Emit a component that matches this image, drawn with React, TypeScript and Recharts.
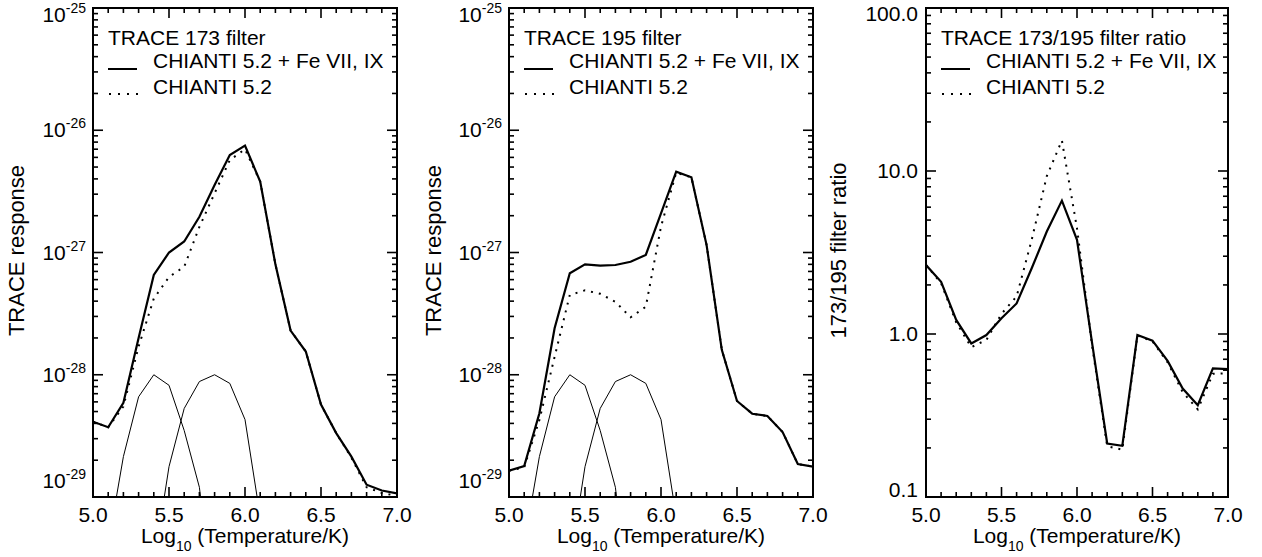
import React from 'react'
import { LineChart, Line, XAxis, YAxis, Legend, Label } from 'recharts'

const FONT = '"Liberation Sans", Arial, Helvetica, sans-serif'

// log10(T/K) grid shared by all three panels
const temps = [5.0, 5.1, 5.2, 5.3, 5.4, 5.5, 5.6, 5.7, 5.8, 5.9, 6.0, 6.1, 6.2, 6.3, 6.4, 6.5, 6.6, 6.7, 6.8, 6.9, 7.0]
const xTickLabels = ['5.0', '5.5', '6.0', '6.5', '7.0']
const responseExponents = ['-29', '-28', '-27', '-26', '-25']
const ratioLabels = ['0.1', '1.0', '10.0', '100.0']
const seriesNames = ['CHIANTI 5.2 + Fe VII, IX', 'CHIANTI 5.2']

// TRACE 173 response
const trace173New = [4.13e-29, 3.72e-29, 5.9e-29, 2.0e-28, 6.55e-28, 1.0e-27, 1.23e-27, 1.96e-27, 3.56e-27, 6.28e-27, 7.48e-27, 3.8e-27, 8.0e-28, 2.3e-28, 1.55e-28, 5.7e-29, 3.33e-29, 2.14e-29, 1.26e-29, 1.13e-29, 1.07e-29]
const trace173Old = [4.13e-29, 3.72e-29, 5.5e-29, 1.7e-28, 4.2e-28, 6.3e-28, 7.65e-28, 1.62e-27, 3.05e-27, 5.7e-27, 7.0e-27, 3.8e-27, 8.0e-28, 2.3e-28, 1.55e-28, 5.7e-29, 3.33e-29, 2.1e-29, 1.2e-29, 1.08e-29, 1.02e-29]

// TRACE 195 response
const trace195New = [1.64e-29, 1.79e-29, 4.84e-29, 2.4e-28, 6.76e-28, 8.0e-28, 7.8e-28, 7.9e-28, 8.4e-28, 9.55e-28, 2.09e-27, 4.58e-27, 4.12e-27, 1.15e-27, 1.6e-28, 6.1e-29, 4.8e-29, 4.6e-29, 3.4e-29, 1.86e-29, 1.77e-29]
const trace195Old = [1.64e-29, 1.75e-29, 4.27e-29, 1.4e-28, 4.5e-28, 4.9e-28, 4.6e-28, 3.95e-28, 2.95e-28, 3.6e-28, 1.63e-27, 4.5e-27, 4.12e-27, 1.15e-27, 1.6e-28, 6.1e-29, 4.8e-29, 4.6e-29, 3.4e-29, 1.86e-29, 1.77e-29]

// thin curves (scaled Fe VII and Fe IX contributions)
const feVII = [null, 4.1e-30, 2.14e-29, 6.6e-29, 1.0e-28, 8.2e-29, 3.5e-29, 1.2e-29, 1.0e-30, null, null, null, null, null, null, null, null, null, null, null, null]
const feIX = [null, null, null, null, 2.8e-30, 1.77e-29, 5.3e-29, 8.8e-29, 1.0e-28, 8.5e-29, 4.3e-29, 6.9e-30, null, null, null, null, null, null, null, null, null]

// 173/195 ratio
const ratioNew = [2.65, 2.09, 1.22, 0.875, 0.985, 1.25, 1.54, 2.53, 4.25, 6.58, 3.78, 0.88, 0.213, 0.206, 0.985, 0.91, 0.684, 0.463, 0.366, 0.615, 0.608]
const ratioOld = [2.65, 2.05, 1.18, 0.83, 0.92, 1.33, 1.7, 3.78, 9.3, 15.4, 4.45, 0.85, 0.205, 0.195, 0.98, 0.9, 0.67, 0.44, 0.345, 0.57, 0.575]

function logTicks(lo: number, hi: number): number[] {
  const out: number[] = []
  for (let e = lo; e < hi; e++) {
    for (let m = 1; m <= 9; m++) out.push(m * Math.pow(10, e))
  }
  out.push(Math.pow(10, hi))
  return out
}

const responseTicks = logTicks(-29, -25)
const ratioTicks = logTicks(-1, 2)

const txt = { fontFamily: FONT, fill: '#000' }
const CHART_H = 557

function decadeIndex(v: number, lo: number): number | null {
  const lg = Math.log10(v)
  const r = Math.round(lg)
  return Math.abs(lg - r) < 1e-6 ? r - lo : null
}

function isHalf(v: number) {
  return Math.abs(v * 2 - Math.round(v * 2)) < 1e-6
}

function renderBottomLabel(props: any) {
  const x = Number(props.x)
  const y = Number(props.y)
  const v = props.payload.value
  if (!isHalf(v)) return <g />
  return (
    <text x={x} y={y + 25} textAnchor="middle" fontSize={21} {...txt}>
      {xTickLabels[Math.round((v - 5) * 2)]}
    </text>
  )
}

function renderLeftLabel(props: any, kind: 'response' | 'ratio', shiftTop: number, shiftBottom: number) {
  const x = Number(props.x)
  const y = Number(props.y)
  const lo = kind === 'response' ? -29 : -1
  const n = kind === 'response' ? 4 : 3
  const dec = decadeIndex(props.payload.value, lo)
  if (dec === null) return <g />
  let by = y + 7
  if (dec === 0) by += shiftBottom
  if (dec === n) by += shiftTop
  if (kind === 'response') {
    return (
      <text x={x - 7} y={by} textAnchor="end" fontSize={21} {...txt}>
        10<tspan dy={-9} fontSize={14}>{responseExponents[dec]}</tspan>
      </text>
    )
  }
  return (
    <text x={x - 8} y={by} textAnchor="end" fontSize={21} {...txt}>
      {ratioLabels[dec]}
    </text>
  )
}

type Box = { l: number; t: number; w: number; h: number }

// inward minor/major tick marks on all four sides of the plot box
function Ticks({ box, yTicks, yLo, yHi }: { box: Box; yTicks: number[]; yLo: number; yHi: number }) {
  const px = (v: number) => box.l + ((v - 5) / 2) * box.w
  const py = (v: number) => box.t + ((Math.log10(yHi) - Math.log10(v)) / (Math.log10(yHi) - Math.log10(yLo))) * box.h
  const b = box.t + box.h
  const r = box.l + box.w
  const segs: React.ReactNode[] = []
  temps.forEach((t, i) => {
    const len = isHalf(t) ? 10 : 5
    const x = px(t)
    segs.push(<line key={'b' + i} x1={x} x2={x} y1={b} y2={b - len} />)
    segs.push(<line key={'t' + i} x1={x} x2={x} y1={box.t} y2={box.t + len} />)
  })
  yTicks.forEach((v, i) => {
    const lg = Math.log10(v)
    const len = Math.abs(lg - Math.round(lg)) < 1e-6 ? 10 : 5
    const y = py(v)
    segs.push(<line key={'l' + i} x1={box.l} x2={box.l + len} y1={y} y2={y} />)
    segs.push(<line key={'r' + i} x1={r} x2={r - len} y1={y} y2={y} />)
  })
  return (
    <svg width={r + 10} height={CHART_H} style={{ position: 'absolute', left: 0, top: 0, pointerEvents: 'none', overflow: 'visible' }}>
      <g stroke="#000" strokeWidth={1.6}>{segs}</g>
    </svg>
  )
}

function PanelLegend({ title }: { title: string }) {
  return (
    <svg width={300} height={100} style={{ display: 'block' }}>
      <text x={0} y={37} fontSize={21} {...txt}>{title}</text>
      <line x1={0} x2={29} y1={61} y2={61} stroke="#000" strokeWidth={2} />
      <text x={45} y={60} fontSize={21} {...txt}>{seriesNames[0]}</text>
      <line x1={1} x2={30} y1={86} y2={86} stroke="#000" strokeWidth={2} strokeDasharray="2 7" />
      <text x={45} y={86} fontSize={21} {...txt}>{seriesNames[1]}</text>
    </svg>
  )
}

interface PanelProps {
  left: number
  width: number
  // plot-area box inside the chart
  margin: { top: number; right: number; bottom: number; left: number }
  kind: 'response' | 'ratio'
  title: string
  yTitle: string
  yTitleOffset: number
  solid: (number | null)[]
  dotted: (number | null)[]
  thin?: boolean
}

function Panel(p: PanelProps) {
  const data = temps.map((t, i) => ({
    t,
    solid: p.solid[i],
    dotted: p.dotted[i],
    fe7: feVII[i],
    fe9: feIX[i],
  }))
  const domain = p.kind === 'response' ? [1e-29, 1e-25] : [0.1, 100]
  const ticks = p.kind === 'response' ? responseTicks : ratioTicks
  const shifts = p.kind === 'response' ? { top: 7, bottom: -16 } : { top: 6, bottom: -7 }
  // axes take 1px each, so trim the margins by that much
  const m = { top: p.margin.top, right: p.margin.right, bottom: p.margin.bottom - 1, left: p.margin.left - 1 }
  const box: Box = {
    l: p.margin.left,
    t: p.margin.top,
    w: p.width - p.margin.left - p.margin.right,
    h: CHART_H - p.margin.top - p.margin.bottom,
  }

  return (
    <div style={{ position: 'absolute', left: p.left, top: 0, width: p.width, height: CHART_H }}>
      <LineChart width={p.width} height={CHART_H} data={data} margin={m}>
        <XAxis
          dataKey="t"
          type="number"
          domain={[5, 7]}
          ticks={temps}
          interval={0}
          allowDataOverflow
          height={1}
          tickSize={0}
          tickMargin={0}
          tickLine={false}
          axisLine={false}
          tick={renderBottomLabel}
        >
          <Label
            content={(lp: any) => {
              const vb = lp.viewBox || {}
              return (
                <text x={vb.x + vb.width / 2} y={vb.y + 46} textAnchor="middle" fontSize={21} {...txt}>
                  Log<tspan dy={8} fontSize={14}>10</tspan>
                  <tspan dy={-8}> (Temperature/K)</tspan>
                </text>
              )
            }}
          />
        </XAxis>
        <YAxis
          type="number"
          scale="log"
          domain={domain}
          ticks={ticks}
          interval={0}
          allowDataOverflow
          width={1}
          tickSize={0}
          tickMargin={0}
          tickLine={false}
          axisLine={false}
          tick={(tp: any) => renderLeftLabel(tp, p.kind, shifts.top, shifts.bottom)}
        >
          <Label
            content={(lp: any) => {
              const vb = lp.viewBox || {}
              const cx = vb.x + vb.width - p.yTitleOffset
              const cy = vb.y + vb.height / 2 - 2
              return (
                <text x={cx} y={cy} transform={`rotate(-90, ${cx}, ${cy})`} textAnchor="middle" fontSize={22} {...txt}>
                  {p.yTitle}
                </text>
              )
            }}
          />
        </YAxis>
        <Legend
          layout="vertical"
          align="center"
          verticalAlign="middle"
          wrapperStyle={{ position: 'absolute', left: p.margin.left + 15, top: p.margin.top, width: 300, height: 100 }}
          content={() => <PanelLegend title={p.title} />}
        />
        {p.thin && (
          <Line type="linear" dataKey="fe7" stroke="#000" strokeWidth={1} dot={false} isAnimationActive={false} legendType="none" />
        )}
        {p.thin && (
          <Line type="linear" dataKey="fe9" stroke="#000" strokeWidth={1} dot={false} isAnimationActive={false} legendType="none" />
        )}
        <Line type="linear" dataKey="dotted" stroke="#000" strokeWidth={2} strokeDasharray="2 6" dot={false} isAnimationActive={false} />
        <Line type="linear" dataKey="solid" stroke="#000" strokeWidth={2.2} dot={false} isAnimationActive={false} />
      </LineChart>
      {/* plot frame, 2px border centred on the plot edges */}
      <div
        style={{
          position: 'absolute',
          left: box.l - 1,
          top: box.t - 1,
          width: box.w - 2,
          height: box.h - 2,
          border: '2px solid #000',
          boxSizing: 'content-box',
          pointerEvents: 'none',
        }}
      />
      <Ticks box={box} yTicks={ticks} yLo={domain[0]} yHi={domain[1]} />
    </div>
  )
}

export default function App() {
  return (
    <div style={{ position: 'absolute', left: 0, top: 0, width: 1262, height: 557, background: '#fff', overflow: 'hidden' }}>
      <Panel
        left={0}
        width={420}
        margin={{ top: 8, right: 23, bottom: 60, left: 93 }}
        kind="response"
        title="TRACE 173 filter"
        yTitle="TRACE response"
        yTitleOffset={69}
        solid={trace173New}
        dotted={trace173Old}
        thin
      />
      <Panel
        left={420}
        width={420}
        margin={{ top: 8, right: 27, bottom: 60, left: 89 }}
        kind="response"
        title="TRACE 195 filter"
        yTitle="TRACE response"
        yTitleOffset={68}
        solid={trace195New}
        dotted={trace195Old}
        thin
      />
      <Panel
        left={815}
        width={447}
        margin={{ top: 8, right: 34, bottom: 60, left: 111 }}
        kind="ratio"
        title="TRACE 173/195 filter ratio"
        yTitle="173/195 filter ratio"
        yTitleOffset={80}
        solid={ratioNew}
        dotted={ratioOld}
      />
    </div>
  )
}
